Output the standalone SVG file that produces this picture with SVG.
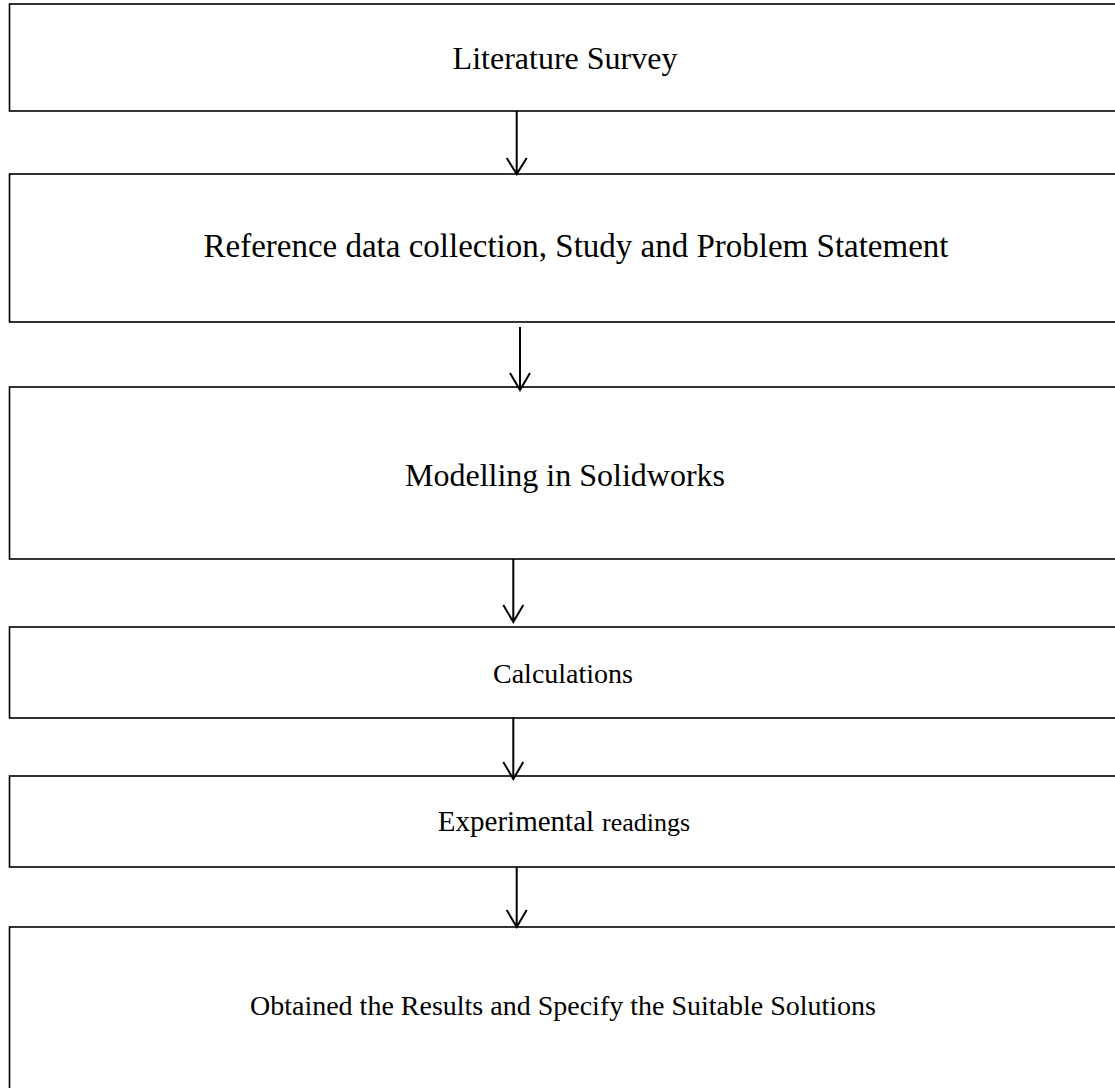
<svg xmlns="http://www.w3.org/2000/svg" width="1115" height="1088" viewBox="0 0 1115 1088">
<style>
.box{fill:#fff;stroke:#000;stroke-width:1.6}
.t{font-family:"Liberation Serif","Times New Roman",serif;font-size:32px;fill:#000;text-anchor:middle}
.c{stroke:#000;stroke-width:2;fill:none}
</style>
<rect width="1115" height="1088" fill="#fff"/>
<g id="n1"><rect class="box" x="9.5" y="4" width="1120" height="107"/><text class="t" x="565" y="69">Literature Survey</text></g>
<g id="n2"><rect class="box" x="9.5" y="174" width="1120" height="148"/><text class="t" x="576" y="257" style="font-size:33px">Reference data collection, Study and Problem Statement</text></g>
<g id="n3"><rect class="box" x="9.5" y="387" width="1120" height="172"/><text class="t" x="565" y="486">Modelling in Solidworks</text></g>
<g id="n4"><rect class="box" x="9.5" y="627" width="1120" height="91"/><text class="t" x="563" y="683" style="font-size:28px">Calculations</text></g>
<g id="n5"><rect class="box" x="9.5" y="776" width="1120" height="91"/><text class="t" x="564" y="831"><tspan style="font-size:29px">Experimental</tspan> <tspan style="font-size:26px">readings</tspan></text></g>
<g id="n6"><rect class="box" x="9.5" y="927" width="1120" height="200"/><text class="t" x="563" y="1015" style="font-size:28px">Obtained the Results and Specify the Suitable Solutions</text></g>
<g id="connectors">
<path class="c" d="M516.7 111V174M506.7 158L516.7 174L526.7 158"/>
<path class="c" d="M520 327V390M510 373L520 390L530 373"/>
<path class="c" d="M513.3 559V622M503.3 605L513.3 622L523.3 605"/>
<path class="c" d="M513.3 717V779M503.3 762L513.3 779L523.3 762"/>
<path class="c" d="M516.7 867V927M506.7 910L516.7 927L526.7 910"/>
</g>
</svg>
